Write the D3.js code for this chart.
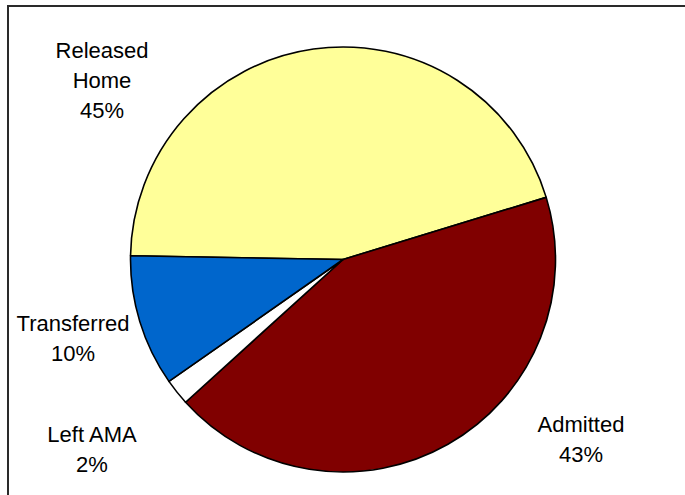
<!DOCTYPE html>
<html>
<head>
<meta charset="utf-8">
<script src="https://cdn.jsdelivr.net/npm/d3@7"></script>
<style>
  html, body { margin: 0; padding: 0; background: #fff; overflow: hidden; }
  svg { display: block; }
</style>
</head>
<body>
<svg id="chart" width="685" height="495"></svg>
<script>
// Disposition of patients
const categories = ["Released Home", "Admitted", "Left AMA", "Transferred"];
const labelLines = [["Released", "Home"], ["Admitted"], ["Left AMA"], ["Transferred"]];
const percents = [45, 43, 2, 10];
const colors = ["#FFFF99", "#800000", "#FFFFFF", "#0066CC"];

const width = 685, height = 495;
const cx = 343, cy = 259.5, radius = 212.5;

const svg = d3.select("#chart");

// Chart-area frame (runs off the right and bottom edges)
svg.append("rect")
  .attr("x", 8).attr("y", 6)
  .attr("width", 720).attr("height", 560)
  .attr("fill", "none")
  .attr("stroke", "#2a2a2a")
  .attr("stroke-width", 2);

const startDeg = 271;
const pie = d3.pie()
  .sort(null)
  .value(d => d)
  .startAngle(startDeg * Math.PI / 180)
  .endAngle((startDeg + 360) * Math.PI / 180);

const arc = d3.arc().innerRadius(0).outerRadius(radius);

const g = svg.append("g").attr("transform", `translate(${cx},${cy})`);

g.selectAll("path")
  .data(pie(percents))
  .join("path")
  .attr("d", arc)
  .attr("fill", (d, i) => colors[i])
  .attr("stroke", "#000")
  .attr("stroke-width", 1.6)
  .attr("stroke-linejoin", "round");

// Data labels: name lines followed by the percentage
const labelPos = [
  { x: 102, y: 58 },
  { x: 581, y: 432 },
  { x: 92, y: 442 },
  { x: 73, y: 331 }
];
const lineGap = 30;

categories.forEach((c, i) => {
  const lines = labelLines[i].concat([percents[i] + "%"]);
  const t = svg.append("text")
    .attr("x", labelPos[i].x)
    .attr("y", labelPos[i].y)
    .attr("text-anchor", "middle")
    .attr("font-family", "'Liberation Sans', Arial, sans-serif")
    .attr("font-size", 22)
    .attr("fill", "#000");
  lines.forEach((ln, k) => {
    t.append("tspan")
      .attr("x", labelPos[i].x)
      .attr("y", labelPos[i].y + k * lineGap)
      .text(ln);
  });
});
</script>
</body>
</html>
